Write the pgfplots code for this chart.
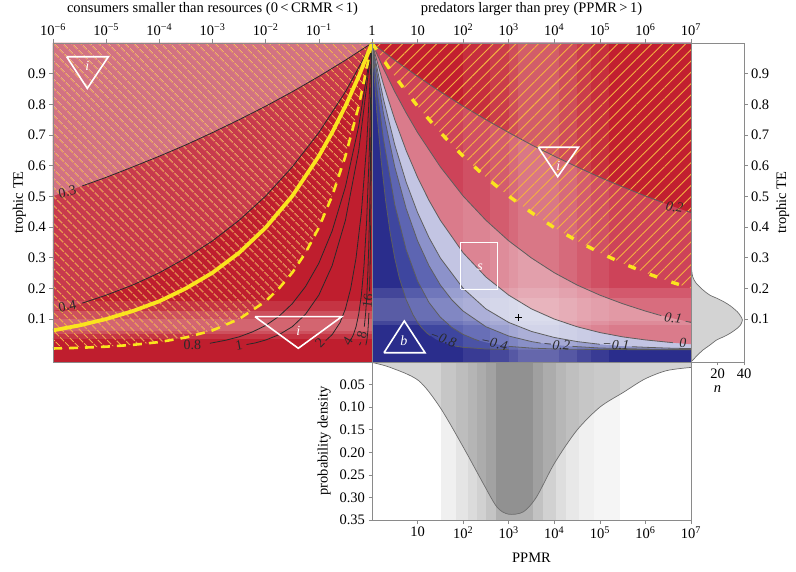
\documentclass[border=0pt]{standalone}
\usepackage{pgfplots}
\pgfplotsset{compat=1.18}
\usepackage{fontspec}
\setmainfont{Liberation Serif}
\usetikzlibrary{patterns.meta}
\newcommand{\fs}{\fontsize{14.5}{17}\selectfont}
\newcommand{\cl}[1]{{\fontsize{14}{16}\selectfont #1}}
\newcommand{\ct}[1]{{\fontsize{14}{16}\selectfont\itshape #1}}
\definecolor{navy}{HTML}{2A2D8C}
\definecolor{bA}{HTML}{3E469F}
\definecolor{bB}{HTML}{5D65B2}
\definecolor{bC}{HTML}{8C92CA}
\definecolor{bD}{HTML}{C3C5E3}
\definecolor{rA}{HTML}{DA7B8B}
\definecolor{rB}{HTML}{CD4359}
\definecolor{rC}{HTML}{C21F30}
\definecolor{lA}{HTML}{BF1E2E}
\definecolor{lB}{HTML}{C83A4C}
\definecolor{lC}{HTML}{D27282}
\definecolor{hatch}{HTML}{F5B040}
\definecolor{yel}{HTML}{FAE41E}
\definecolor{frame}{HTML}{8A8A8A}
\definecolor{cline}{HTML}{2A2A2A}
\definecolor{rline}{HTML}{5E5E5E}
\definecolor{dfill}{HTML}{D3D3D3}
\definecolor{dline}{HTML}{6E6E6E}
\pgfplotsset{
  every axis/.append style={
    scale only axis, anchor=south west,
    axis line style={frame, line width=0.6pt},
    every tick/.style={frame, line width=0.6pt},
    tick align=outside, major tick length=3.5pt,
    tick label style={font=\fs}, label style={font=\fs}, title style={font=\fs},
    axis on top,
  }
}
\begin{document}
\begin{tikzpicture}
\useasboundingbox (0,0) rectangle (796pt,571pt);
%================ LEFT PANEL =================
\begin{axis}[at={(53pt,209pt)}, width=319pt, height=319pt,
  xmin=-6, xmax=0, ymin=-0.04, ymax=1,
  xtick={-6,-5,-4,-3,-2,-1,0},
  xticklabels={10\textsuperscript{−6},10\textsuperscript{−5},10\textsuperscript{−4},10\textsuperscript{−3},10\textsuperscript{−2},10\textsuperscript{−1},1},
  xtick pos=right, xticklabel pos=right,
  ytick={0.1,0.2,0.3,0.4,0.5,0.6,0.7,0.8,0.9},
  yticklabels={0.1,0.2,0.3,0.4,0.5,0.6,0.7,0.8,0.9},
  ytick pos=left,
  ylabel={trophic TE}, ylabel style={font=\fs, yshift=-5pt},
  title={consumers smaller than resources (0\,<\,CRMR\,<\,1)},
  title style={font=\fs, at={(0.5,1)},anchor=south,yshift=18pt}]
% base colour
\addplot[draw=none, fill=lA] coordinates {(-6,-0.04) (0,-0.04) (0,1) (-6,1)} -- cycle;
% region above 0.4 contour
\addplot[draw=none, fill=lB] coordinates {(-6,0.126) (-5.5,0.150) (-5,0.178) (-4.5,0.211) (-4,0.251) (-3.5,0.299) (-3,0.355) (-2.5,0.422) (-2,0.501) (-1.5,0.596) (-1,0.708) (-0.5,0.841) (0,1) (-6,1)} -- cycle;
% region above 0.3 contour
\addplot[draw=none, fill=lC] coordinates {(-6,0.501) (-5.5,0.531) (-5,0.562) (-4.5,0.596) (-4,0.631) (-3.5,0.668) (-3,0.708) (-2.5,0.750) (-2,0.794) (-1.5,0.841) (-1,0.891) (-0.5,0.944) (0,1) (-6,1)} -- cycle;
% horizontal lightening (TE density)
\addplot[draw=none, fill=white, fill opacity=0.10] coordinates {(-6,0.035) (0,0.035) (0,0.16) (-6,0.16)} -- cycle;
\addplot[draw=none, fill=white, fill opacity=0.14] coordinates {(-6,0.05) (0,0.05) (0,0.125) (-6,0.125)} -- cycle;
\addplot[draw=none, fill=white, fill opacity=0.12] coordinates {(-6,0.06) (0,0.06) (0,0.10) (-6,0.10)} -- cycle;
% hatching above dashed yellow line
\addplot[draw=none, pattern={Lines[angle=-45,distance=6.5pt,line width=0.9pt]}, pattern color=hatch] coordinates {(-6,0.004) (-5.5,0.0063) (-5,0.01) (-4.5,0.0158) (-4,0.025) (-3.5,0.040) (-3,0.063) (-2.5,0.1) (-2,0.158) (-1.75,0.2) (-1.5,0.251) (-1.25,0.316) (-1,0.398) (-0.75,0.501) (-0.5,0.631) (-0.25,0.794) (0,1) (-6,1)} -- cycle;
% contour lines
\addplot[cline, line width=0.8pt] coordinates {(-5.45,0.534) (-5,0.562) (-4.5,0.596) (-4,0.631) (-3.5,0.668) (-3,0.708) (-2.5,0.750) (-2,0.794) (-1.5,0.841) (-1,0.891) (-0.5,0.944) (0,1)};
\addplot[cline, line width=0.8pt] coordinates {(-5.45,0.152) (-5,0.178) (-4.5,0.211) (-4,0.251) (-3.5,0.299) (-3,0.355) (-2.5,0.422) (-2,0.501) (-1.5,0.596) (-1,0.708) (-0.5,0.841) (0,1)};
\addplot[cline, line width=0.8pt] coordinates {(-3.05,0.021) (-2.75,0.031) (-2.5,0.042) (-2.25,0.058) (-2,0.079) (-1.75,0.109) (-1.5,0.150) (-1.25,0.206) (-1,0.282) (-0.75,0.387) (-0.5,0.531) (-0.25,0.729) (0,1)};
\addplot[cline, line width=0.8pt] coordinates {(-2.36,0.017) (-2.2,0.022) (-2,0.0316) (-1.75,0.049) (-1.5,0.075) (-1.25,0.116) (-1,0.178) (-0.75,0.274) (-0.5,0.422) (-0.25,0.649) (0,1)};
\addplot[cline, line width=0.8pt] coordinates {(-0.87,0.030) (-0.75,0.049) (-0.6,0.089) (-0.5,0.133) (-0.4,0.2) (-0.3,0.299) (-0.2,0.447) (-0.1,0.668) (0,1)};
\addplot[cline, line width=0.8pt] coordinates {(-0.40,0.032) (-0.35,0.049) (-0.3,0.075) (-0.25,0.116) (-0.2,0.178) (-0.15,0.274) (-0.1,0.422) (-0.05,0.649) (0,1)};
\addplot[cline, line width=0.8pt] coordinates {(-0.235,0.015) (-0.21,0.024)};
\addplot[cline, line width=0.8pt] coordinates {(-0.145,0.075) (-0.12,0.118) (-0.1,0.168) (-0.08,0.24) (-0.06,0.342) (-0.04,0.49) (-0.02,0.70) (0,1)};
\addplot[cline, line width=0.8pt] coordinates {(-0.116,0.015) (-0.097,0.03) (-0.078,0.059) (-0.068,0.085) (-0.058,0.12)};
\addplot[cline, line width=0.8pt] coordinates {(-0.046,0.19) (-0.04,0.234) (-0.03,0.337) (-0.02,0.484) (-0.01,0.696) (0,1)};
% yellow lines
\addplot[yel, line width=2.6pt, dash pattern=on 9pt off 7pt] coordinates {(-6,0.004) (-5.5,0.0063) (-5,0.01) (-4.5,0.0158) (-4,0.025) (-3.5,0.040) (-3,0.063) (-2.5,0.1) (-2,0.158) (-1.75,0.2) (-1.5,0.251) (-1.25,0.316) (-1,0.398) (-0.75,0.501) (-0.5,0.631) (-0.25,0.794) (0,1)};
\addplot[yel, line width=3.8pt] coordinates {(-6,0.063) (-5.5,0.0794) (-5,0.1) (-4.5,0.126) (-4,0.158) (-3.5,0.2) (-3,0.251) (-2.5,0.316) (-2,0.398) (-1.5,0.501) (-1,0.631) (-0.75,0.708) (-0.5,0.794) (-0.25,0.891) (0,1)};
% region symbols
\addplot[white, line width=1.6pt] coordinates {(-5.742,0.955) (-4.96,0.955) (-5.355,0.852) (-5.742,0.955)};
\addplot[white, line width=1.6pt] coordinates {(-2.201,0.1077) (-0.570,0.1077) (-1.386,0.0047) (-2.201,0.1077)};
\node[white] at (axis cs:-5.355,0.925) {\ct{i}};
\node[white] at (axis cs:-1.386,0.062) {\ct{i}};
% contour labels
\node[cline, rotate=12] at (axis cs:-5.73,0.515) {\cl{0.3}};
\node[cline, rotate=12] at (axis cs:-5.73,0.142) {\cl{0.4}};
\node[cline] at (axis cs:-3.38,0.016) {\cl{0.8}};
\node[cline, rotate=10] at (axis cs:-2.5,0.014) {\cl{1}};
\node[cline, rotate=45] at (axis cs:-0.98,0.022) {\cl{2}};
\node[cline, rotate=60] at (axis cs:-0.46,0.027) {\cl{4}};
\node[cline, rotate=75] at (axis cs:-0.19,0.047) {\cl{8}};
\node[cline, rotate=82] at (axis cs:-0.08,0.158) {\cl{16}};
\end{axis}
%================ RIGHT MAIN PANEL =================
\begin{axis}[at={(372pt,209pt)}, width=319pt, height=319pt,
  xmin=0, xmax=7, ymin=-0.04, ymax=1,
  xtick={0,1,2,3,4,5,6,7},
  xticklabels={,10,10\textsuperscript{2},10\textsuperscript{3},10\textsuperscript{4},10\textsuperscript{5},10\textsuperscript{6},10\textsuperscript{7}},
  xtick pos=right, xticklabel pos=right,
  ytick=\empty,
  title={predators larger than prey (PPMR\,>\,1)},
  title style={font=\fs, at={(0.5,1)},anchor=south,yshift=18pt}]
\addplot[draw=none, fill=navy] coordinates {(0,-0.04) (7,-0.04) (7,1) (0,1)} -- cycle;
\addplot[draw=none, fill=bA] coordinates {(0,1) (0.05,0.886) (0.1,0.785) (0.2,0.617) (0.3,0.485) (0.4,0.380) (0.5,0.298) (0.6,0.234) (0.75,0.163) (0.9,0.114) (1,0.089) (1.2,0.055) (1.4,0.034) (1.6,0.021) (1.8,0.013) (2,0.0079) (2.5,0.0024) (3,0.0007) (7,0) (7,1)} -- cycle;
\addplot[draw=none, fill=bB] coordinates {(0,1) (0.1,0.861) (0.25,0.688) (0.5,0.473) (0.75,0.326) (1,0.224) (1.25,0.154) (1.5,0.106) (1.75,0.073) (2,0.05) (2.25,0.0344) (2.5,0.024) (3,0.011) (3.5,0.0053) (4,0.0025) (5,0.0006) (7,0) (7,1)} -- cycle;
\addplot[draw=none, fill=bC] coordinates {(0,1) (0.25,0.772) (0.5,0.596) (0.75,0.460) (1,0.355) (1.25,0.274) (1.5,0.211) (1.75,0.163) (2,0.126) (2.5,0.075) (3,0.0447) (3.5,0.0266) (4,0.0158) (4.5,0.0094) (5,0.0056) (6,0.002) (7,0.0007) (7,1)} -- cycle;
\addplot[draw=none, fill=bD] coordinates {(0,1) (0.25,0.818) (0.5,0.668) (0.75,0.546) (1,0.447) (1.25,0.366) (1.5,0.299) (2,0.2) (2.5,0.133) (3,0.089) (3.5,0.0596) (4,0.04) (4.5,0.0266) (5,0.0178) (5.5,0.0119) (6,0.008) (6.5,0.0053) (7,0.0036) (7,1)} -- cycle;
\addplot[draw=none, fill=rA] coordinates {(0,1) (0.25,0.866) (0.5,0.75) (0.75,0.649) (1,0.562) (1.25,0.487) (1.5,0.422) (2,0.316) (2.5,0.237) (3,0.178) (3.5,0.133) (4,0.1) (4.5,0.075) (5,0.056) (5.5,0.042) (6,0.032) (6.5,0.024) (7,0.0178) (7,1)} -- cycle;
\addplot[draw=none, fill=rB] coordinates {(0,1) (0.25,0.917) (0.5,0.841) (0.75,0.772) (1,0.708) (1.5,0.596) (2,0.501) (2.5,0.422) (3,0.355) (3.5,0.299) (4,0.251) (4.5,0.211) (5,0.178) (5.5,0.150) (6,0.126) (6.5,0.106) (7,0.089) (7,1)} -- cycle;
\addplot[draw=none, fill=rC] coordinates {(0,1) (0.5,0.944) (1,0.891) (1.5,0.841) (2,0.794) (2.5,0.750) (3,0.708) (3.5,0.668) (4,0.631) (4.5,0.596) (5,0.562) (5.5,0.531) (6,0.501) (6.5,0.473) (7,0.447) (7,1)} -- cycle;
% vertical lightening (PPMR density)
\addplot[draw=none, fill=white, fill opacity=0.07] coordinates {(2.0,-0.04) (5.2,-0.04) (5.2,1) (2.0,1)} -- cycle;
\addplot[draw=none, fill=white, fill opacity=0.07] coordinates {(2.6,-0.04) (4.8,-0.04) (4.8,1) (2.6,1)} -- cycle;
\addplot[draw=none, fill=white, fill opacity=0.09] coordinates {(3.0,-0.04) (4.5,-0.04) (4.5,1) (3.0,1)} -- cycle;
\addplot[draw=none, fill=white, fill opacity=0.09] coordinates {(3.2,-0.04) (4.1,-0.04) (4.1,1) (3.2,1)} -- cycle;
% horizontal lightening (TE density)
\addplot[draw=none, fill=white, fill opacity=0.12] coordinates {(0,0.08) (7,0.08) (7,0.20) (0,0.20)} -- cycle;
\addplot[draw=none, fill=white, fill opacity=0.12] coordinates {(0,0.095) (7,0.095) (7,0.17) (0,0.17)} -- cycle;
% hatching above dashed yellow line
\addplot[draw=none, pattern={Lines[angle=45,distance=8pt,line width=0.9pt]}, pattern color=hatch] coordinates {(0,1) (0.5,0.891) (1,0.794) (1.5,0.708) (2,0.631) (2.5,0.562) (3,0.501) (3.5,0.447) (4,0.398) (4.5,0.355) (5,0.316) (5.5,0.282) (6,0.251) (6.5,0.224) (7,0.2) (7,1)} -- cycle;
% contour lines
\addplot[rline, line width=0.8pt] coordinates {(0,1) (0.5,0.944) (1,0.891) (1.5,0.841) (2,0.794) (2.5,0.750) (3,0.708) (3.5,0.668) (4,0.631) (4.5,0.596) (5,0.562) (5.5,0.531) (6,0.501) (6.38,0.480)};
\addplot[rline, line width=0.8pt] coordinates {(6.9,0.452) (7,0.447)};
\addplot[rline, line width=0.8pt] coordinates {(0,1) (0.25,0.917) (0.5,0.841) (0.75,0.772) (1,0.708) (1.5,0.596) (2,0.501) (2.5,0.422) (3,0.355) (3.5,0.299) (4,0.251) (4.5,0.211) (5,0.178) (5.5,0.150) (6,0.126) (6.35,0.111)};
\addplot[rline, line width=0.8pt] coordinates {(6.88,0.093) (7,0.089)};
\addplot[rline, line width=0.8pt] coordinates {(0,1) (0.25,0.866) (0.5,0.75) (0.75,0.649) (1,0.562) (1.25,0.487) (1.5,0.422) (2,0.316) (2.5,0.237) (3,0.178) (3.5,0.133) (4,0.1) (4.5,0.075) (5,0.056) (5.5,0.042) (6,0.032) (6.6,0.023)};
\addplot[rline, line width=0.8pt] coordinates {(0,1) (0.25,0.818) (0.5,0.668) (0.75,0.546) (1,0.447) (1.25,0.366) (1.5,0.299) (2,0.2) (2.5,0.133) (3,0.089) (3.5,0.0596) (4,0.04) (4.5,0.0266) (5.0,0.0178)};
\addplot[rline, line width=0.8pt] coordinates {(5.7,0.010) (6,0.008) (6.5,0.0053) (7,0.0036)};
\addplot[rline, line width=0.8pt] coordinates {(0,1) (0.25,0.772) (0.5,0.596) (0.75,0.460) (1,0.355) (1.25,0.274) (1.5,0.211) (1.75,0.163) (2,0.126) (2.5,0.075) (3,0.0447) (3.5,0.0266) (3.7,0.0215)};
\addplot[rline, line width=0.8pt] coordinates {(4.4,0.011) (5,0.0056) (6,0.002) (7,0.0007)};
\addplot[rline, line width=0.8pt] coordinates {(0,1) (0.1,0.861) (0.25,0.688) (0.5,0.473) (0.75,0.326) (1,0.224) (1.25,0.154) (1.5,0.106) (1.75,0.073) (2,0.05) (2.25,0.0344) (2.35,0.029)};
\addplot[rline, line width=0.8pt] coordinates {(3.0,0.011) (3.5,0.0053) (4,0.0025) (5,0.0006) (7,0)};
\addplot[rline, line width=0.8pt] coordinates {(0,1) (0.05,0.886) (0.1,0.785) (0.2,0.617) (0.3,0.485) (0.4,0.380) (0.5,0.298) (0.6,0.234) (0.75,0.163) (0.9,0.114) (1,0.089) (1.1,0.070) (1.2,0.055) (1.28,0.046)};
\addplot[rline, line width=0.8pt] coordinates {(1.82,0.012) (2,0.0079) (2.5,0.0024) (3,0.0007)};
% dashed yellow line
\addplot[yel, line width=3.4pt, dash pattern=on 8pt off 15pt] coordinates {(0,1) (0.5,0.891) (1,0.794) (1.5,0.708) (2,0.631) (2.5,0.562) (3,0.501) (3.5,0.447) (4,0.398) (4.5,0.355) (5,0.316) (5.5,0.282) (6,0.251) (6.5,0.224) (7,0.2)};
% region symbols
\addplot[white, line width=1.6pt] coordinates {(3.65,0.660) (4.53,0.660) (4.075,0.564) (3.65,0.660)};
\addplot[white, line width=1.6pt] coordinates {(1.946,0.197) (2.75,0.197) (2.75,0.349) (1.946,0.349) (1.946,0.197)};
\addplot[white, line width=1.6pt] coordinates {(0.263,-0.0097) (1.163,-0.0097) (0.709,0.0937) (0.263,-0.0097)};
\addplot[only marks, mark=+, mark size=3.5pt, black, line width=0.8pt] coordinates {(3.21,0.104)};
\node[white] at (axis cs:4.09,0.598) {\ct{i}};
\node[white] at (axis cs:2.37,0.27) {\ct{s}};
\node[white] at (axis cs:0.70,0.028) {\ct{b}};
% contour labels
\node[cline, rotate=-8] at (axis cs:6.64,0.465) {\ct{0.2}};
\node[cline, rotate=-8] at (axis cs:6.61,0.103) {\ct{0.1}};
\node[cline] at (axis cs:6.82,0.023) {\ct{0}};
\node[cline, rotate=-3] at (axis cs:5.35,0.016) {\ct{−0.1}};
\node[cline, rotate=-5] at (axis cs:4.05,0.016) {\ct{−0.2}};
\node[cline, rotate=-12] at (axis cs:2.68,0.021) {\ct{−0.4}};
\node[cline, rotate=-20] at (axis cs:1.56,0.036) {\ct{−0.8}};
\end{axis}
%================ SIDE PANEL (TE density) =================
\begin{axis}[at={(691pt,209pt)}, width=53pt, height=319pt,
  xmin=0, xmax=40, ymin=-0.04, ymax=1,
  xtick={20,40}, xticklabels={20,40}, xtick pos=left,
  ytick={0.1,0.2,0.3,0.4,0.5,0.6,0.7,0.8,0.9},
  yticklabels={0.1,0.2,0.3,0.4,0.5,0.6,0.7,0.8,0.9},
  ytick pos=right, yticklabel pos=right,
  xlabel={\textit{n}}, xlabel style={font=\fs},
  ylabel={trophic TE}, ylabel near ticks, ylabel style={font=\fs}]
\addplot[fill=dfill, draw=none, smooth] coordinates {(0,0.276) (1.3,0.238) (3.9,0.217) (9.0,0.195) (14.2,0.178) (19.4,0.168) (24.5,0.157) (29.7,0.143) (34.9,0.124) (37.4,0.110) (38.8,0.097) (37.4,0.081) (34.9,0.070) (29.7,0.054) (24.5,0.042) (19.4,0.032) (14.2,0.015) (9.0,-0.001) (5.1,-0.017) (2.6,-0.028) (0.8,-0.036) (0,-0.04)} -- cycle;
\addplot[dline, line width=0.7pt, smooth] coordinates {(0,0.276) (1.3,0.238) (3.9,0.217) (9.0,0.195) (14.2,0.178) (19.4,0.168) (24.5,0.157) (29.7,0.143) (34.9,0.124) (37.4,0.110) (38.8,0.097) (37.4,0.081) (34.9,0.070) (29.7,0.054) (24.5,0.042) (19.4,0.032) (14.2,0.015) (9.0,-0.001) (5.1,-0.017) (2.6,-0.028) (0.8,-0.036) (0,-0.04)};
\end{axis}
%================ BOTTOM PANEL (PPMR density) =================
\begin{axis}[at={(372pt,51pt)}, width=319pt, height=158pt,
  xmin=0, xmax=7, ymin=0, ymax=0.35, y dir=reverse,
  xtick={1,2,3,4,5,6,7},
  xticklabels={10,10\textsuperscript{2},10\textsuperscript{3},10\textsuperscript{4},10\textsuperscript{5},10\textsuperscript{6},10\textsuperscript{7}},
  xtick pos=left,
  ytick={0.05,0.10,0.15,0.20,0.25,0.30,0.35},
  yticklabels={0.05,0.10,0.15,0.20,0.25,0.30,0.35},
  ytick pos=left,
  xlabel={PPMR}, xlabel style={font=\fs, yshift=-7pt},
  ylabel={probability density}, ylabel style={font=\fs, yshift=2pt}]
\addplot[fill=dfill, draw=none, smooth] coordinates {(0,0.001) (0.4,0.012) (1.02,0.041) (1.49,0.10) (2.0,0.188) (2.44,0.269) (2.74,0.321) (2.99,0.337) (3.32,0.332) (3.61,0.299) (4.0,0.225) (4.49,0.152) (5.0,0.10) (5.52,0.067) (5.99,0.0375) (6.47,0.019) (7,0.012)} \closedcycle;
\addplot[draw=none, fill=black, fill opacity=0.06] coordinates {(1.51,0) (1.85,0) (1.85,0.35) (1.51,0.35)} -- cycle;
\addplot[draw=none, fill=black, fill opacity=0.10] coordinates {(1.85,0) (2.10,0) (2.10,0.35) (1.85,0.35)} -- cycle;
\addplot[draw=none, fill=black, fill opacity=0.14] coordinates {(2.10,0) (2.31,0) (2.31,0.35) (2.10,0.35)} -- cycle;
\addplot[draw=none, fill=black, fill opacity=0.18] coordinates {(2.31,0) (2.51,0) (2.51,0.35) (2.31,0.35)} -- cycle;
\addplot[draw=none, fill=black, fill opacity=0.23] coordinates {(2.51,0) (2.73,0) (2.73,0.35) (2.51,0.35)} -- cycle;
\addplot[draw=none, fill=black, fill opacity=0.31] coordinates {(2.73,0) (3.53,0) (3.53,0.35) (2.73,0.35)} -- cycle;
\addplot[draw=none, fill=black, fill opacity=0.24] coordinates {(3.53,0) (3.75,0) (3.75,0.35) (3.53,0.35)} -- cycle;
\addplot[draw=none, fill=black, fill opacity=0.18] coordinates {(3.75,0) (4.04,0) (4.04,0.35) (3.75,0.35)} -- cycle;
\addplot[draw=none, fill=black, fill opacity=0.13] coordinates {(4.04,0) (4.26,0) (4.26,0.35) (4.04,0.35)} -- cycle;
\addplot[draw=none, fill=black, fill opacity=0.09] coordinates {(4.26,0) (4.54,0) (4.54,0.35) (4.26,0.35)} -- cycle;
\addplot[draw=none, fill=black, fill opacity=0.06] coordinates {(4.54,0) (4.88,0) (4.88,0.35) (4.54,0.35)} -- cycle;
\addplot[draw=none, fill=black, fill opacity=0.04] coordinates {(4.88,0) (5.45,0) (5.45,0.35) (4.88,0.35)} -- cycle;
\addplot[dline, line width=0.7pt, smooth] coordinates {(0,0.001) (0.4,0.012) (1.02,0.041) (1.49,0.10) (2.0,0.188) (2.44,0.269) (2.74,0.321) (2.99,0.337) (3.32,0.332) (3.61,0.299) (4.0,0.225) (4.49,0.152) (5.0,0.10) (5.52,0.067) (5.99,0.0375) (6.47,0.019) (7,0.012)};
\end{axis}
\end{tikzpicture}
\end{document}
